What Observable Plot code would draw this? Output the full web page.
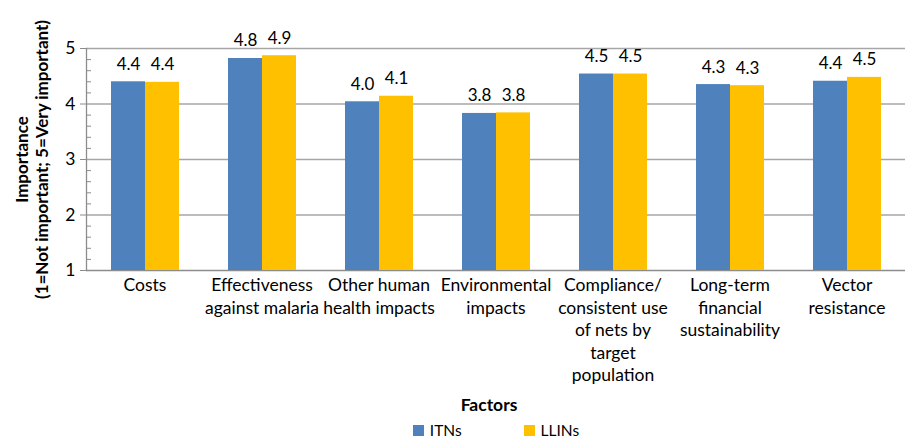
<!DOCTYPE html>
<html>
<head>
<meta charset="utf-8">
<script src="https://cdn.jsdelivr.net/npm/d3@7"></script>
<script src="https://cdn.jsdelivr.net/npm/@observablehq/plot@0.6"></script>
<style>
  html, body { margin: 0; padding: 0; background: #fff; }
  body { width: 909px; height: 438px; overflow: hidden; font-family: Lato, "Open Sans", sans-serif; color: #000; }
  #chart svg { display: block; }
  .xtitle { width: 826px; margin-left: 76px; text-align: center; font-weight: bold; font-size: 17.5px; height: 26px; line-height: 26px; }
  .legend { width: 826px; margin-left: 83px; display: flex; justify-content: center; align-items: center; gap: 62px; font-size: 15.5px; height: 24px; }
  .legend span.item { display: flex; align-items: center; gap: 6px; }
  .legend span.sw { display: inline-block; width: 11px; height: 11px; }
</style>
</head>
<body>
<div id="chart"></div>
<div class="xtitle">Factors</div>
<div class="legend" id="legend"></div>
<script>
const categories = ["Costs", "Effectiveness against malaria", "Other human health impacts", "Environmental impacts", "Compliance/ consistent use of nets by target population", "Long-term financial sustainability", "Vector resistance"];
const categoryLabels = ["Costs", "Effectiveness\nagainst malaria", "Other human\nhealth impacts", "Environmental\nimpacts", "Compliance/\nconsistent use\nof nets by\ntarget\npopulation", "Long-term\nfinancial\nsustainability", "Vector\nresistance"];
const series = ["ITNs", "LLINs"];
const itns = [4.40, 4.82, 4.04, 3.83, 4.54, 4.35, 4.41];
const llins = [4.39, 4.87, 4.14, 3.84, 4.54, 4.33, 4.48];
const colors = ["#4F81BD", "#FFC000"];
const yTicks = [1, 2, 3, 4, 5];
const yMinorTicks = [1.2, 1.4, 1.6, 1.8, 2.2, 2.4, 2.6, 2.8, 3.2, 3.4, 3.6, 3.8, 4.2, 4.4, 4.6, 4.8];
const gridTicks = [2, 3, 4, 5];

const data = [];
categories.forEach((c, i) => {
  data.push({category: c, series: "ITNs", value: itns[i]});
  data.push({category: c, series: "LLINs", value: llins[i]});
});
const labelOf = new Map(categories.map((c, i) => [c, categoryLabels[i]]));
const fmt = d3.format(".1f");
const font = "Lato, 'Open Sans', sans-serif";

const chart = Plot.plot({
  width: 909,
  height: 392,
  marginLeft: 83,
  marginRight: 2,
  marginTop: 48,
  marginBottom: 122,
  style: {fontFamily: font, fontSize: "17px", color: "#000", background: "#fff"},
  fx: {domain: categories, paddingInner: 0, paddingOuter: 0, label: null},
  x: {domain: series, paddingInner: 0, paddingOuter: 0.706, axis: null},
  y: {domain: [1, 5], label: null},
  color: {domain: series, range: colors},
  marks: [
    Plot.gridY(gridTicks, {stroke: "#a6a6a6", strokeOpacity: 1, strokeWidth: 1.3}),
    Plot.ruleY([1], {stroke: "#8c8c8c", strokeWidth: 1.3}),
    Plot.barY(data, {fx: "category", x: "series", y1: 1, y2: "value", fill: "series"}),
    Plot.text(data, {fx: "category", x: "series", y: "value", text: d => fmt(d.value), lineAnchor: "bottom", dy: -12, fontSize: 17, fill: "#000"}),
    Plot.frame({anchor: "left", facetAnchor: "left", stroke: "#8c8c8c", strokeWidth: 1.3}),
    Plot.axisY({ticks: yTicks, tickSize: 6, tickPadding: 5, fontSize: 17.5, stroke: "#8c8c8c", fill: "#000", label: null, tickFormat: d3.format("d")}),
    Plot.axisY({ticks: yMinorTicks, tickSize: -5, tickFormat: () => "", stroke: "#8c8c8c", label: null}),
    Plot.text(["Importance\n(1=Not important; 5=Very important)"], {frameAnchor: "left", facetAnchor: "left", textAnchor: "middle", rotate: -90, dx: -55, fontWeight: "bold", fontSize: 17, lineHeight: 1.2, fill: "#000"}),
    Plot.axisFx({anchor: "bottom", tickSize: 0, tickPadding: 5, fontSize: 17.5, lineHeight: 1.28, label: null, tickFormat: d => labelOf.get(d), fill: "#000"})
  ]
});
document.getElementById("chart").appendChild(chart);

const legend = document.getElementById("legend");
series.forEach((s, i) => {
  const item = document.createElement("span");
  item.className = "item";
  const sw = document.createElement("span");
  sw.className = "sw";
  sw.style.background = colors[i];
  item.appendChild(sw);
  item.appendChild(document.createTextNode(s));
  legend.appendChild(item);
});
</script>
</body>
</html>
